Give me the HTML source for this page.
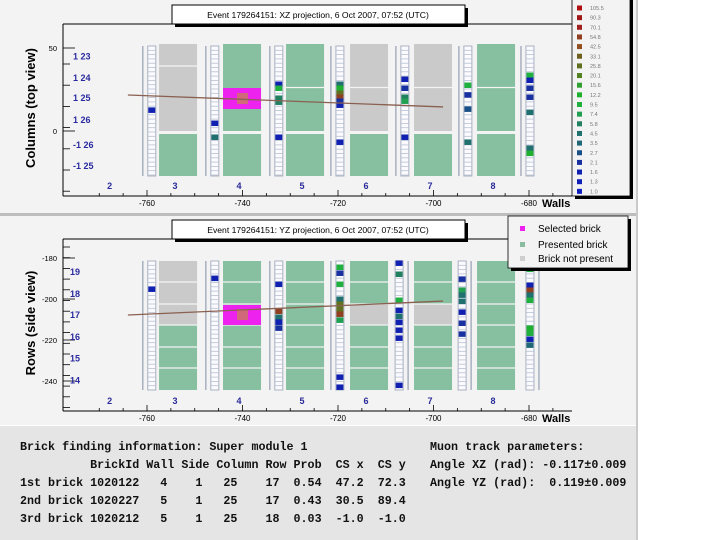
<!DOCTYPE html>
<html><head><meta charset="utf-8"><style>
html,body{margin:0;padding:0;background:#fff;}
#wrap{position:relative;width:720px;height:540px;overflow:hidden;font-family:"Liberation Sans",sans-serif;}
pre{margin:0;font-family:"Liberation Mono",monospace;font-weight:bold;font-size:11.7px;line-height:18px;color:#111;}
</style></head><body>
<div id="wrap">
<svg id="svg" width="720" height="540" xmlns="http://www.w3.org/2000/svg"></svg>
<div style="position:absolute;left:20px;top:438px;"><pre>Brick finding information: Super module 1
          BrickId Wall Side Column Row Prob  CS x  CS y
1st brick 1020122   4    1   25    17  0.54  47.2  72.3
2nd brick 1020227   5    1   25    17  0.43  30.5  89.4
3rd brick 1020212   5    1   25    18  0.03  -1.0  -1.0</pre></div>
<div style="position:absolute;left:430px;top:438px;"><pre>Muon track parameters:
Angle XZ (rad): -0.117±0.009
Angle YZ (rad):  0.119±0.009</pre></div>
</div>
<script>
const wallLabels = ['2','3','4','5','6','7','8'];
const wallZ = [-767.2, -753.5, -740.1, -726.9, -713.5, -700.1, -686.9];
const xTicks = [-760, -740, -720, -700, -680];
const palette = ['#b01010','#a01818','#a02020','#904020','#905020','#706020','#607020','#508020','#30a030','#20b030','#20b040','#20a050','#208060','#207070','#206878','#1a5088','#1830a0','#1020b0','#1020b8','#1020c0'];
const paletteLabels = ['105.5','90.3','70.1','54.8','42.5','33.1','25.8','20.1','15.6','12.2','9.5','7.4','5.8','4.5','3.5','2.7','2.1','1.6','1.3','1.0'];
const topStripZ = [-759, -745.8, -732.4, -719.6, -706, -692.8, -679.8];
const topHitStrip = [0,1,1,2,2,2,2,2,3,3,3,3,3,3,3,4,4,4,4,4,5,5,5,5,6,6,6,6,6,6,6];
const topHitVal = [12.7,4.8,-3.6,28.3,25.9,19.9,17.5,-3.6,28.3,25.9,22.9,20.5,18.1,15.7,-6.6,31.3,25.9,20.5,18.1,-3.6,27.7,21.9,13.3,-6.6,33.7,30.7,25.9,20.5,11.4,-10.2,-13.3];
const topHitCol = [17,17,13,17,10,12,12,17,13,9,6,3,16,17,17,17,16,12,11,17,10,16,15,13,10,17,16,16,13,13,9];
const botStripZ = [-759, -745.8, -732.4, -719.6, -707.2, -694.0, -679.8];
const botHitStrip = [0,1,2,2,2,2,2,3,3,3,3,3,3,3,3,3,3,4,4,4,4,4,4,4,4,4,5,5,5,5,5,5,5,6,6,6,6,6,6,6,6,6];
const botHitVal = [-195.1,-189.8,-192.7,-205.9,-208.8,-211.2,-214.1,-184.4,-187.3,-192.7,-200,-202.4,-204.9,-207.3,-210.2,-238,-242.9,-182.4,-187.8,-200.5,-205.4,-208.3,-211.2,-215.1,-219,-242,-190.2,-195.6,-198,-201,-206.3,-211.7,-217,-185.4,-193.2,-195.6,-198,-200.5,-214.1,-216.6,-219.5,-222.4];
const botHitCol = [17,17,17,3,13,17,16,10,16,10,13,6,6,3,11,17,17,17,12,10,17,13,17,17,17,17,16,11,13,13,17,16,16,10,17,3,13,10,9,10,17,14];
const topRowLabels = ['1 23','1 24','1 25','1 26','-1 26','-1 25'];
const topRowVal = [45, 32, 20, 6.5, -8.5, -21];
const botRowLabels = ['19','18','17','16','15','14'];
const botRowVal = [-186.8,-197.5,-207.8,-218.5,-229,-239.7];
const topYTicks = [50, 0];
const botYTicks = [-180, -200, -220, -240];
const trackTop = [[-764, 21.7], [-698, 14.5]];
const trackBot = [[-764, -207.8], [-698, -201]];

const NS = 'http://www.w3.org/2000/svg';
const svg = document.getElementById('svg');
function el(tag, attrs, parent, text) {
  const e = document.createElementNS(NS, tag);
  for (const k in attrs) e.setAttribute(k, attrs[k]);
  if (text !== undefined) e.textContent = text;
  (parent || svg).appendChild(e);
  return e;
}
const xS = v => 147 + (v + 760) * 4.775;

let bg = el('rect', {x:0,y:0,width:636,height:213,fill:'#f3f3f3'});


let bg2 = el('rect', {x:0,y:216,width:636,height:209,fill:'#f3f3f3'});


el('rect', {x:0,y:213,width:636,height:3,fill:'#bdbdbd'});
let bg3 = el('rect', {x:0,y:426,width:636,height:114,fill:'#e5e5e5'});


el('line', {x1:637,y1:0,x2:637,y2:540,stroke:'#b8b8b8','stroke-width':1.5});

function panel(y0, yS, opts) {
  const g = el('g', {});
  
  
  for (let i = 1; i < wallZ.length; i++) {
    const x = xS(wallZ[i]) - 19;
    opts.bricks(g, i, x);
  }
  for (let i = 0; i < opts.stripZ.length; i++) {
    const cx = xS(opts.stripZ[i]);
    const s = el('g', {}, g);
    
    
    const flip = opts.flip && opts.flip[i];
    const ox = flip ? cx + 9 : cx - 9;
    el('line', {x1:ox,y1:opts.sy0,x2:ox,y2:opts.sy1,stroke:'#a8b0c0','stroke-width':1.5}, s);
    el('rect', {x:cx-4,y:opts.sy0,width:8,height:opts.sy1-opts.sy0,fill:'#fbfbff',stroke:'#a8b0c0','stroke-width':1}, s);
    for (let yy = opts.sy0 + 4.3; yy < opts.sy1; yy += 4.3)
      el('line', {x1:cx-4,y1:yy,x2:cx+4,y2:yy,stroke:'#b8c0d0','stroke-width':0.8}, s);
  }
  for (let k = 0; k < opts.hs.length; k++) {
    const r = el('rect', {x:xS(opts.stripZ[opts.hs[k]])-3.5,y:yS(opts.hv[k])-2.5,width:7,height:5.5,fill:palette[opts.hc[k]]}, g);
    
    
  }
  const t = el('line', {x1:xS(opts.track[0][0]),y1:yS(opts.track[0][1]),x2:xS(opts.track[1][0]),y2:yS(opts.track[1][1]),stroke:'#8a6050','stroke-width':1.3}, g);
  
  
  el('line', {x1:63,y1:y0+24,x2:572,y2:y0+24,stroke:'#000','stroke-width':1}, g);
  el('line', {x1:63,y1:y0+24,x2:63,y2:y0+196,stroke:'#000','stroke-width':1}, g);
  el('line', {x1:63,y1:y0+196,x2:572,y2:y0+196,stroke:'#000','stroke-width':1}, g);
  for (let v = -770; v <= -675; v += 5) {
    const major = v % 20 === 0;
    el('line', {x1:xS(v),y1:y0+196,x2:xS(v),y2:y0+196-(major?6:3),stroke:'#000','stroke-width':0.8}, g);
  }
  xTicks.forEach(v => {
    const tx = el('text', {x:xS(v),y:y0+206,'font-size':8,'text-anchor':'middle',fill:'#000'}, g, String(v));
    
    
  });
  wallLabels.forEach((w, i) => {
    const tx = el('text', {x:xS(wallZ[i])-3,y:y0+189,'font-size':9,'font-weight':'bold','text-anchor':'middle',fill:'#2a2a9a'}, g, w);
    
    
  });
  const wl = el('text', {x:542,y:y0+207,'font-size':11,'font-weight':'bold',fill:'#000'}, g, 'Walls');
  
  
  opts.yTicks.forEach(v => {
    el('line', {x1:63,y1:yS(v),x2:75,y2:yS(v),stroke:'#000','stroke-width':0.8}, g);
    const tx = el('text', {x:57,y:yS(v)+3,'font-size':7.5,'text-anchor':'end',fill:'#000'}, g, String(v));
    
    
  });
  for (let yy = opts.minorStart; yy < y0 + 196; yy += opts.minorStep)
    el('line', {x1:63,y1:yy,x2:70,y2:yy,stroke:'#000','stroke-width':0.8}, g);
  opts.rl.forEach((l, i) => {
    const tx = el('text', {x:opts.rlx,y:yS(opts.rv[i])+3,'font-size':9,'font-weight':'bold',fill:'#2a2aa0'}, g, l);
    
    
  });
  el('rect', {x:175,y:y0+8,width:293,height:19,fill:'#000'}, g);
  el('rect', {x:172,y:y0+5,width:293,height:19,fill:'#fff',stroke:'#000','stroke-width':1}, g);
  const tt = el('text', {x:318,y:y0+18,'font-size':8.6,'text-anchor':'middle',fill:'#000'}, g, opts.title);
  
  
  const yt = el('text', {x:0,y:0,'font-size':13,'font-weight':'bold','text-anchor':'middle',fill:'#000',transform:'translate(35,'+(y0+108)+') rotate(-90)'}, g, opts.ytitle);
  
  
}

const G = '#86c0a0', GR = '#cacaca', MG = '#ee22ee';
function rect(g, x, y, w, h, f, name) {
  const r = el('rect', {x:x,y:y,width:w,height:h,fill:f}, g);
  
  
  return r;
}
function hline(g, x, y) { el('line', {x1:x,y1:y,x2:x+38,y2:y,stroke:'#f4f4f4','stroke-width':1.3}, g); }

const yTop = v => 131 - v * 1.66;
panel(0, yTop, {
  name:'xz-projection-panel', title:'Event 179264151: XZ projection,  6 Oct 2007, 07:52 (UTC)',
  ytitle:'Columns (top view)', stripZ:topStripZ, hs:topHitStrip, hv:topHitVal, hc:topHitCol,
  track:trackTop, yTicks:topYTicks, rl:topRowLabels, rv:topRowVal, rlx:73,
  sy0:46, sy1:176, minorStart:64, minorStep:21.2,
  bricks:(g, i, x) => {
    const grayTop = (i === 1 || i === 4 || i === 5);
    rect(g, x, 44, 38, 87, grayTop ? GR : G, 'brick-upper-wall-' + wallLabels[i]);
    rect(g, x, 134, 38, 42, G, 'brick-lower-wall-' + wallLabels[i]);
    if (i === 1) hline(g, x, 66); else if (i !== 2) hline(g, x, 87.5);
    if (i === 2) { rect(g, x, 88, 38, 21, MG, 'selected-brick'); el('rect', {x:x+14,y:93,width:11,height:11,fill:'#d06a7a'}, g); }
  }
});

const yBot = v => 258 - (v + 180) * 2.05;
panel(215, yBot, {
  name:'yz-projection-panel', title:'Event 179264151: YZ projection,  6 Oct 2007, 07:52 (UTC)',
  ytitle:'Rows (side view)', stripZ:botStripZ, hs:botHitStrip, hv:botHitVal, hc:botHitCol,
  track:trackBot, yTicks:botYTicks, rl:botRowLabels, rv:botRowVal, rlx:70,
  sy0:261, sy1:390, minorStart:247, minorStep:10.7, flip:[false,false,false,false,true,true,true],
  bricks:(g, i, x) => {
    rect(g, x, 261, 38, 129, G, 'brick-column-wall-' + wallLabels[i]);
    if (i === 1) rect(g, x, 261, 38, 64, GR, 'missing-bricks');
    if (i === 4 || i === 5) rect(g, x, 304, 38, 21, GR, 'missing-brick');
    [282, 304, 325, 347, 368].forEach(yy => hline(g, x, yy));
    if (i === 2) { rect(g, x, 305, 38, 20, MG, 'selected-brick'); el('rect', {x:x+14,y:309,width:11,height:11,fill:'#d06a7a'}, g); }
  }
});

const cl = el('g', {});


el('rect', {x:575,y:-2,width:58,height:201,fill:'#000'}, cl);
el('rect', {x:572,y:-4,width:58,height:200,fill:'#f3f3f3',stroke:'#000','stroke-width':0.8}, cl);
paletteLabels.forEach((l, i) => {
  const y = 8 + i * 9.65;
  el('rect', {x:577,y:y-2.5,width:5,height:5,fill:palette[i]}, cl);
  const t = el('text', {x:590,y:y+2,'font-size':5.5,fill:'#777'}, cl, l);
  
  
});

const lg = el('g', {});


el('rect', {x:511,y:219,width:120,height:52,fill:'#000'}, lg);
el('rect', {x:508,y:216,width:120,height:52,fill:'#f3f3f3',stroke:'#000','stroke-width':0.8}, lg);
[['Selected brick', MG, 228], ['Presented brick', '#8abca0', 244], ['Brick not present', '#cfcfcf', 258]].forEach(e => {
  const eg = el('g', {}, lg);
  
  
  el('rect', {x:520,y:e[2]-2,width:5,height:5,fill:e[1]}, eg);
  el('text', {x:538,y:e[2]+4,'font-size':10,fill:'#000'}, eg, e[0]);
});
</script>
</body></html>
